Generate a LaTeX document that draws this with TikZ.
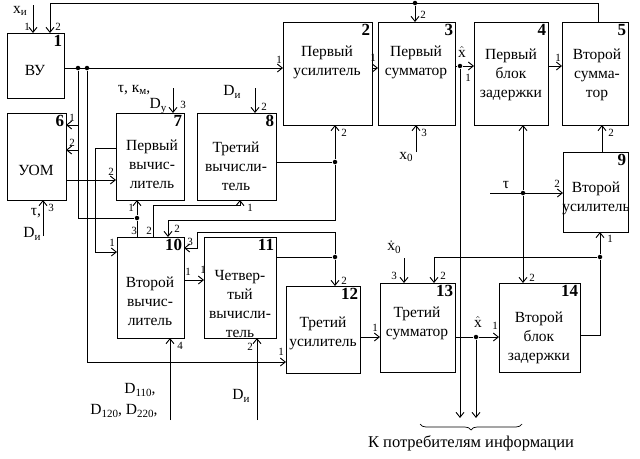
\documentclass[tikz,border=0pt]{standalone}
\usepackage{fontspec}
\setmainfont{Liberation Serif}
\usetikzlibrary{arrows.meta,decorations.pathreplacing}
\newcommand{\sbt}[1]{\raisebox{-0.35ex}{\fontsize{11}{11}\selectfont #1}}
\begin{document}
\begin{tikzpicture}[x=1pt,y=-1pt,line width=0.9pt,
  blk/.style={draw,rectangle,inner sep=0pt},
  txt/.style={align=center,font=\fontsize{15.5}{19}\selectfont,inner sep=0pt},
  num/.style={font=\fontsize{17}{17}\selectfont\bfseries,anchor=north east,inner sep=2pt},
  pl/.style={font=\fontsize{11}{11}\selectfont,inner sep=0pt},
  lb/.style={font=\fontsize{15.5}{17}\selectfont,inner sep=0pt,align=left},
  ar/.style={-{Straight Barb[length=5pt,width=8pt]}},
  dot/.style={circle,fill,inner sep=0pt,minimum size=4.5pt}]
\useasboundingbox (0,0) rectangle (640,458);
% blocks
\node[blk,minimum width=57pt,minimum height=65pt] (b1) at (35.5,65.5) {};
\node[blk,minimum width=89pt,minimum height=103pt] (b2) at (327.5,73.5) {};
\node[blk,minimum width=77pt,minimum height=103pt] (b3) at (416.5,73.5) {};
\node[blk,minimum width=74pt,minimum height=103pt] (b4) at (511,73.5) {};
\node[blk,minimum width=66pt,minimum height=103pt] (b5) at (595,73.5) {};
\node[blk,minimum width=59pt,minimum height=87pt] (b6) at (36.5,156.5) {};
\node[blk,minimum width=68pt,minimum height=87pt] (b7) at (150,156.5) {};
\node[blk,minimum width=79pt,minimum height=87pt] (b8) at (236.5,156.5) {};
\node[blk,minimum width=65pt,minimum height=80pt] (b9) at (595.5,192) {};
\node[blk,minimum width=67pt,minimum height=101pt] (b10) at (150.5,287.5) {};
\node[blk,minimum width=72pt,minimum height=101pt] (b11) at (240,287.5) {};
\node[blk,minimum width=74pt,minimum height=87pt] (b12) at (323,329.5) {};
\node[blk,minimum width=75pt,minimum height=89pt] (b13) at (417.5,327.5) {};
\node[blk,minimum width=81pt,minimum height=89pt] (b14) at (539.5,327.5) {};
\foreach \b/\n in {b1/1,b2/2,b3/3,b4/4,b5/5,b6/6,b7/7,b8/8,b9/9,b10/10,b11/11,b12/12,b13/13,b14/14}
  \node[num] at (\b.north east) {\n};
% texts
\node[txt] (t1) at (35,70) {ВУ};
\node[txt] (t2) at (327,62) {Первый\\усилитель};
\node[txt] (t3) at (416,62) {Первый\\сумматор};
\node[txt] (t4) at (511,75) {Первый\\блок\\задержки};
\node[txt] (t5) at (597,75) {Второй\\сумма-\\тор};
\node[txt] (t6) at (36,170) {УОМ};
\node[txt] (t7) at (152,164) {Первый\\вычис-\\литель};
\node[txt] (t8) at (236,166) {Третий\\вычисли-\\тель};
\node[txt] (t9) at (596,198) {Второй\\усилитель};
\node[txt] (t10) at (150,301) {Второй\\вычис-\\литель};
\node[txt] (t11) at (240,304) {Четвер-\\тый\\вычисли-\\тель};
\node[txt] (t12) at (323,333) {Третий\\усилитель};
\node[txt] (t13) at (417,323) {Третий\\сумматор};
\node[txt] (t14) at (539,338) {Второй\\блок\\задержки};
% junction dots
\node[dot] (d1) at (78,68) {};
\node[dot] (d2) at (87,68) {};
\node[dot] (d3) at (137,218) {};
\node[dot] (d4) at (335,162) {};
\node[dot] (d5) at (335,257) {};
\node[dot] (d6) at (460,66) {};
\node[dot] (d7) at (476,337) {};
\node[dot] (d8) at (600,257) {};
\node[dot] (d9) at (523,193) {};
\node[dot] (d10) at (415,3) {};
% free ends
\coordinate (xi) at (33,5);
\coordinate (c7) at (173,88);
\coordinate (c8) at (255,88);
\coordinate (c6) at (43,236);
\coordinate (c10) at (170,420);
\coordinate (c11) at (257,420);
\coordinate (cx0) at (416,152);
\coordinate (cdx0) at (404,258);
\coordinate (ctau) at (490,193);
\coordinate (o1) at (460,418);
\coordinate (o2) at (476,418);
% connectors
\draw[ar] (xi) -- (33,33);
\draw[ar] (598,22) -- (598,3) -- (50,3) -- (50,33);
\draw[ar] (d10) -- (415,22);
\draw[ar] (64,68) -- (283,68);
\draw (d1) -- (78,218) -- (d3);
\draw[ar] (78,125) -- (66,125);
\draw[ar] (78,150) -- (66,150);
\draw[ar] (d3) -- (137,200);
\draw (d3) -- (137,237);
\draw[ar] (d2) -- (87,362) -- (286,362);
\draw[ar] (66,180) -- (116,180);
\draw[ar] (116,148) -- (95,148) -- (95,252) -- (117,252);
\draw[ar] (153,237) -- (153,205) -- (240,205) -- (240,200);
\draw[ar] (276,162) -- (d4) -- (335,125);
\draw[ar] (d4) -- (335,220) -- (168,220) -- (168,237);
\draw[ar] (276,257) -- (d5) -- (335,286);
\draw[ar] (d5) -- (335,232) -- (197,232) -- (197,248) -- (184,248);
\draw[ar] (184,280) -- (204,280);
\draw[ar] (372,68) -- (378,68);
\draw[ar] (455,66) -- (d6) -- (474,66);
\draw[ar] (d6) -- (o1);
\draw[ar] (548,66) -- (562,66);
\draw[ar] (360,337) -- (380,337);
\draw[ar] (455,337) -- (d7) -- (499,337);
\draw[ar] (d7) -- (o2);
\draw[ar] (580,335) -- (600,335) -- (d8) -- (600,232);
\draw[ar] (d8) -- (434,257) -- (434,283);
\draw[ar] (ctau) -- (563,193);
\draw[ar] (d9) -- (523,125);
\draw[ar] (d9) -- (523,283);
\draw[ar] (602,152) -- (602,125);
\draw[ar] (cx0) -- (416,125);
\draw[ar] (cdx0) -- (404,283);
\draw[ar] (c6) -- (43,200);
\draw[ar] (c7) -- (173,113);
\draw[ar] (c8) -- (255,113);
\draw[ar] (c10) -- (170,338);
\draw[ar] (c11) -- (257,338);
% brace
\draw[decorate,decoration={brace,mirror,amplitude=6pt},line width=0.7pt] (420,424) -- (522,424);
\node[lb,font=\fontsize{16.5}{17}\selectfont] at (471,443) {К потребителям информации};
% external labels
\node[lb] at (20,11) {x\sbt{и}};
\node[lb] at (134,90) {τ, к\sbt{м},};
\node[lb] at (158,106) {D\sbt{у}};
\node[lb] at (232,92) {D\sbt{и}};
\node[lb] at (36,213) {τ,};
\node[lb] at (32,234) {D\sbt{и}};
\node[lb] at (140,390) {D\sbt{110},};
\node[lb] at (124,411) {D\sbt{120}, D\sbt{220},};
\node[lb] at (241,396) {D\sbt{и}};
\node[lb] at (406,157) {x\sbt{0}};
\node[lb] at (394,247) {$\dot{\mbox{x}}$\sbt{0}};
\node[lb] at (506,185) {τ};
\node[lb] at (462,52) {$\hat{\mbox{x}}$};
\node[lb] at (478,322) {$\hat{\mbox{x}}$};
% port labels
\foreach \x/\y/\t in {27/27/1,58/27/2,279/60/1,344/133/2,373/58/1,423/15/2,424/133/3,
  468/78/1,558/58/1,611/133/2,72/118/1,72/143/2,51/208/3,111/172/2,131/208/1,
  183/105/3,264/107/2,250/208/1,557/184/2,610/239/1,112/243/1,134/231/3,149/231/2,
  177/229/2,190/242/3,180/346/4,188/272/1,203/270/1,250/347/2,281/352/1,344/281/2,
  375/328/1,394/276/3,443/276/2,495/326/1,532/278/2}
  \node[pl] at (\x,\y) {\t};
\end{tikzpicture}
\end{document}
